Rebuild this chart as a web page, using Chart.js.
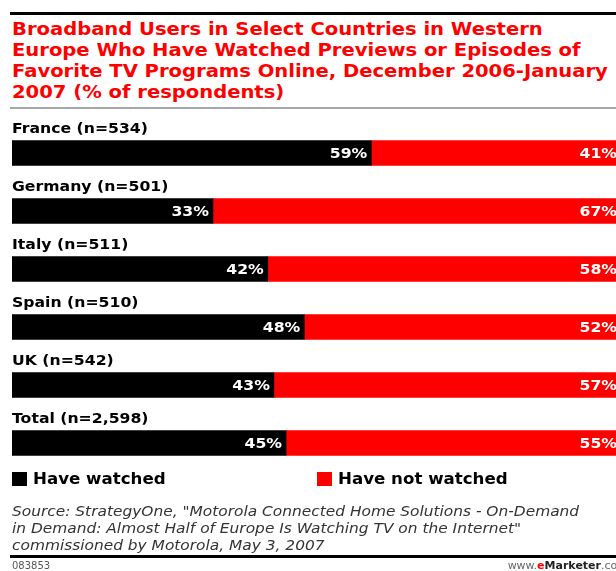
<!DOCTYPE html>
<html>
<head>
<meta charset="utf-8">
<script src="https://cdn.jsdelivr.net/npm/chart.js@4.4.1/dist/chart.umd.min.js"></script>
<style>
  html, body { margin: 0; padding: 0; overflow: hidden; background: #fff; }
  body { width: 616px; height: 571px; position: relative; font-family: "DejaVu Sans", Verdana, sans-serif; }
  .wide { display: inline-block; transform-origin: 0 0; white-space: nowrap; }
  .rule-top { position: absolute; left: 10px; top: 12px; width: 606px; height: 3px; background: #000; }
  .title { position: absolute; left: 12px; top: 19px; color: #f00; font-weight: bold; font-size: 17px; line-height: 21px; transform: scaleX(1.15); }
  .rule-title { position: absolute; left: 10px; top: 107px; width: 606px; height: 2px; background: #a8a8a8; }
  #wrap { position: absolute; left: 0; top: 0; width: 640px; height: 571px; }
  .legend { position: absolute; top: 472px; left: 0; width: 616px; height: 20px; font-weight: bold; font-size: 15px; color: #000; }
  .legend .sw { position: absolute; top: 0; width: 15px; height: 14px; }
  .legend .txt { position: absolute; top: -2px; transform: scaleX(1.11); }
  .source { position: absolute; left: 12px; top: 503px; font-style: italic; font-size: 14px; line-height: 17px; color: #333; transform: scaleX(1.1); }
  .rule-bottom { position: absolute; left: 10px; top: 555px; width: 606px; height: 3px; background: #000; }
  .foot-id { position: absolute; left: 12px; top: 560px; font-size: 10px; color: #555; }
  .foot-brand { position: absolute; right: -12px; top: 559px; font-size: 11px; color: #666; }
  .foot-brand b { color: #222; }
  .foot-brand .e { color: #f00; font-weight: bold; }
</style>
</head>
<body>
<div class="rule-top"></div>
<div class="title wide">Broadband Users in Select Countries in Western<br>Europe Who Have Watched Previews or Episodes of<br>Favorite TV Programs Online, December 2006-January<br>2007 (% of respondents)</div>
<div class="rule-title"></div>
<div id="wrap"><canvas id="chart" width="640" height="571"></canvas></div>
<div class="legend" id="legend"></div>
<div class="source wide">Source: StrategyOne, "Motorola Connected Home Solutions - On-Demand<br>in Demand: Almost Half of Europe Is Watching TV on the Internet"<br>commissioned by Motorola, May 3, 2007</div>
<div class="rule-bottom"></div>
<div class="foot-id">083853</div>
<div class="foot-brand">www.<span class="e">e</span><b>Marketer</b>.com</div>
<script>
// Survey groups and their sample sizes
const categories = ["France (n=534)", "Germany (n=501)", "Italy (n=511)", "Spain (n=510)", "UK (n=542)", "Total (n=2,598)"];
// Share of respondents, %
const haveWatched = [59, 33, 42, 48, 43, 45];
const haveNotWatched = [41, 67, 58, 52, 57, 55];
const seriesNames = ["Have watched", "Have not watched"];
const seriesColors = ["#000000", "#ff0000"];

// Draw text slightly widened horizontally
function wideText(ctx, text, x, y, sx) {
  ctx.save();
  ctx.translate(x, y);
  ctx.scale(sx, 1);
  ctx.fillText(text, 0, 0);
  ctx.restore();
}

// Country name above each bar
const categoryLabels = {
  id: "categoryLabels",
  afterDatasetsDraw(chart) {
    const { ctx } = chart;
    const meta = chart.getDatasetMeta(0);
    ctx.save();
    ctx.font = "bold 14px 'DejaVu Sans', Verdana, sans-serif";
    ctx.fillStyle = "#000";
    ctx.textAlign = "left";
    ctx.textBaseline = "alphabetic";
    categories.forEach((c, i) => {
      const bar = meta.data[i];
      const top = bar.y - bar.height / 2;
      wideText(ctx, c, 12, top - 8, 1.12);
    });
    ctx.restore();
  }
};

// Percentages printed at the right end of each segment
const valueLabels = {
  id: "valueLabels",
  afterDatasetsDraw(chart) {
    const { ctx } = chart;
    ctx.save();
    ctx.font = "bold 14px 'DejaVu Sans', Verdana, sans-serif";
    ctx.fillStyle = "#fff";
    ctx.textAlign = "right";
    ctx.textBaseline = "middle";
    chart.data.datasets.forEach((ds, di) => {
      chart.getDatasetMeta(di).data.forEach((bar, i) => {
        wideText(ctx, ds.data[i] + "%", bar.x - 4, bar.y + 1, 1.12);
      });
    });
    ctx.restore();
  }
};

new Chart(document.getElementById("chart"), {
  type: "bar",
  data: {
    labels: categories,
    datasets: [
      { label: seriesNames[0], data: haveWatched, backgroundColor: seriesColors[0] },
      { label: seriesNames[1], data: haveNotWatched, backgroundColor: seriesColors[1] }
    ]
  },
  options: {
    indexAxis: "y",
    responsive: false,
    animation: false,
    events: [],
    layout: { padding: { left: 12, right: 19, top: 124, bottom: 99 } },
    datasets: { bar: { barThickness: 25, borderWidth: 0 } },
    scales: {
      x: { stacked: true, min: 0, max: 100, display: false },
      y: { stacked: true, display: false }
    },
    plugins: { legend: { display: false }, tooltip: { enabled: false } }
  },
  plugins: [categoryLabels, valueLabels]
});

// Legend built from the series
const legend = document.getElementById("legend");
const legendX = [12, 317];
seriesNames.forEach((n, i) => {
  const sw = document.createElement("span");
  sw.className = "sw";
  sw.style.left = legendX[i] + "px";
  sw.style.background = seriesColors[i];
  legend.appendChild(sw);
  const txt = document.createElement("span");
  txt.className = "txt wide";
  txt.style.left = (legendX[i] + 21) + "px";
  txt.textContent = n;
  legend.appendChild(txt);
});
</script>
</body>
</html>
